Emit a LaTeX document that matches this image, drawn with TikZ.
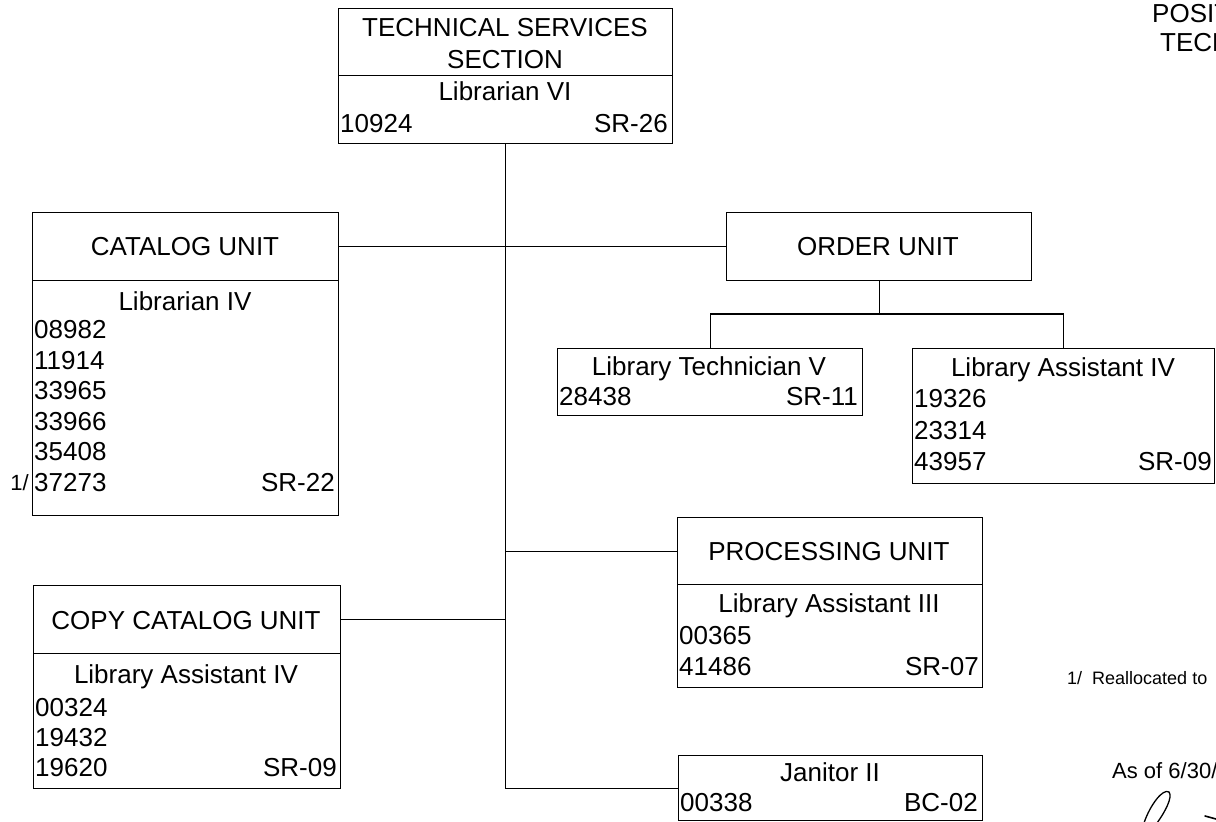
\documentclass[tikz,border=0pt]{standalone}
\usepackage{fontspec}
\setmainfont{Liberation Sans}
\newcommand{\ubox}[5]{\node[box, minimum width=#4pt, minimum height=#5pt] (#1) at (#2,#3) {};}
\begin{document}
\begin{tikzpicture}[x=1pt,y=-1pt,
  box/.style={draw, line width=1.3pt, inner sep=0pt, anchor=north west},
  lbl/.style={inner sep=0pt, font=\fontsize{26}{30}\selectfont},
  small/.style={inner sep=0pt, font=\fontsize{18}{22}\selectfont},
  conn/.style={line width=1.3pt}]
\useasboundingbox (0,0) rectangle (1216,822);
\clip (0,0) rectangle (1216,822);
\fill[white] (0,0) rectangle (1216,822);

% boxes
\ubox{TSh}{338}{8}{334}{67}
\ubox{TSb}{338}{75}{334}{68}
\ubox{catH}{32}{212}{306}{68}
\ubox{catB}{32}{280}{306}{235}
\ubox{ordH}{726}{212}{305}{68}
\ubox{tech}{557}{348}{305}{67}
\ubox{asst}{912}{348}{302}{135}
\ubox{procH}{677}{517}{305}{67}
\ubox{procB}{677}{584}{305}{103}
\ubox{copyH}{33}{585}{307}{68}
\ubox{copyB}{33}{653}{307}{135}
\ubox{jan}{678}{755}{304}{65}

% texts: technical services
\node[lbl, anchor=base] (t1) at (505,36.5) {TECHNICAL SERVICES};
\node[lbl, anchor=base] (t2) at (505,68.5) {SECTION};
\node[lbl, anchor=base] (t3) at (505,100.5) {Librarian VI};
\node[lbl, anchor=base west] (t4) at (340,132.5) {10924};
\node[lbl, anchor=base east] (t5) at (668,132.5) {SR-26};

% catalog
\node[lbl, anchor=base] (c1) at (185,255.5) {CATALOG UNIT};
\node[lbl, anchor=base] (c2) at (185,310.5) {Librarian IV};
\node[lbl, anchor=base west] (c3) at (34,338.5) {08982};
\node[lbl, anchor=base west] (c4) at (34,369) {11914};
\node[lbl, anchor=base west] (c5) at (34,399.6) {33965};
\node[lbl, anchor=base west] (c6) at (34,430.2) {33966};
\node[lbl, anchor=base west] (c7) at (34,460.8) {35408};
\node[lbl, anchor=base west] (c8) at (34,491.4) {37273};
\node[lbl, anchor=base east] (c9) at (335,491.4) {SR-22};
\node[inner sep=0pt, font=\fontsize{22}{26}\selectfont, anchor=base east] (c10) at (29,490.5) {1/};

% order
\node[lbl, anchor=base] (o1) at (878,255.5) {ORDER UNIT};
\node[lbl, anchor=base] (o2) at (709,375) {Library Technician V};
\node[lbl, anchor=base west] (o3) at (559,405) {28438};
\node[lbl, anchor=base east] (o4) at (858,405) {SR-11};
\node[lbl, anchor=base] (o5) at (1063,376) {Library Assistant IV};
\node[lbl, anchor=base west] (o6) at (914,407.5) {19326};
\node[lbl, anchor=base west] (o7) at (914,439) {23314};
\node[lbl, anchor=base west] (o8) at (914,470.5) {43957};
\node[lbl, anchor=base east] (o9) at (1212,470.5) {SR-09};

% processing
\node[lbl, anchor=base] (p1) at (829,560) {PROCESSING UNIT};
\node[lbl, anchor=base] (p2) at (829,612.5) {Library Assistant III};
\node[lbl, anchor=base west] (p3) at (679,644.5) {00365};
\node[lbl, anchor=base west] (p4) at (679,675.5) {41486};
\node[lbl, anchor=base east] (p5) at (979,675.5) {SR-07};

% copy catalog
\node[lbl, anchor=base] (k1) at (186,629.5) {COPY CATALOG UNIT};
\node[lbl, anchor=base] (k2) at (186,683.5) {Library Assistant IV};
\node[lbl, anchor=base west] (k3) at (35,716.5) {00324};
\node[lbl, anchor=base west] (k4) at (35,746.5) {19432};
\node[lbl, anchor=base west] (k5) at (35,776.5) {19620};
\node[lbl, anchor=base east] (k6) at (337,776.5) {SR-09};

% janitor
\node[lbl, anchor=base] (j1) at (830,781.5) {Janitor II};
\node[lbl, anchor=base west] (j2) at (680,811.5) {00338};
\node[lbl, anchor=base east] (j3) at (978,811.5) {BC-02};

% right side texts (cut by the picture's edge)
\node[lbl, anchor=base west] (r1) at (1152,22) {POSIT};
\node[lbl, anchor=base west] (r2) at (1160,51.5) {TECH};
\node[small, anchor=base west] (r3) at (1067,684.5) {1/\ \ Reallocated to};
\node[inner sep=0pt, font=\fontsize{22}{26}\selectfont, anchor=base west] (r4) at (1112,778) {As of 6/30/};

% signature strokes
\draw[line width=1.3pt, line cap=round] (1144,823) .. controls (1150,805) and (1163,788) .. (1169,792) .. controls (1173,797) and (1165,812) .. (1157,823);
\draw[line width=1.6pt, line cap=round] (1205,816) -- (1216,819);

% connectors
\coordinate (tbot) at (TSb.south |- jan.west);
\draw[conn] (TSb.south) -- (tbot) -- (jan.west);
\draw[conn] (catH.east) -- (ordH.west);
\draw[conn] (copyH.east) -- (copyH.east -| TSb.south);
\draw[conn] (TSb.south |- procH.west) -- (procH.west);
\coordinate (obar) at (ordH.south |- 0,314);
\draw[conn] (ordH.south) -- (obar);
\draw[conn] (tech.north) |- (obar) -| (asst.north);
\end{tikzpicture}
\end{document}
